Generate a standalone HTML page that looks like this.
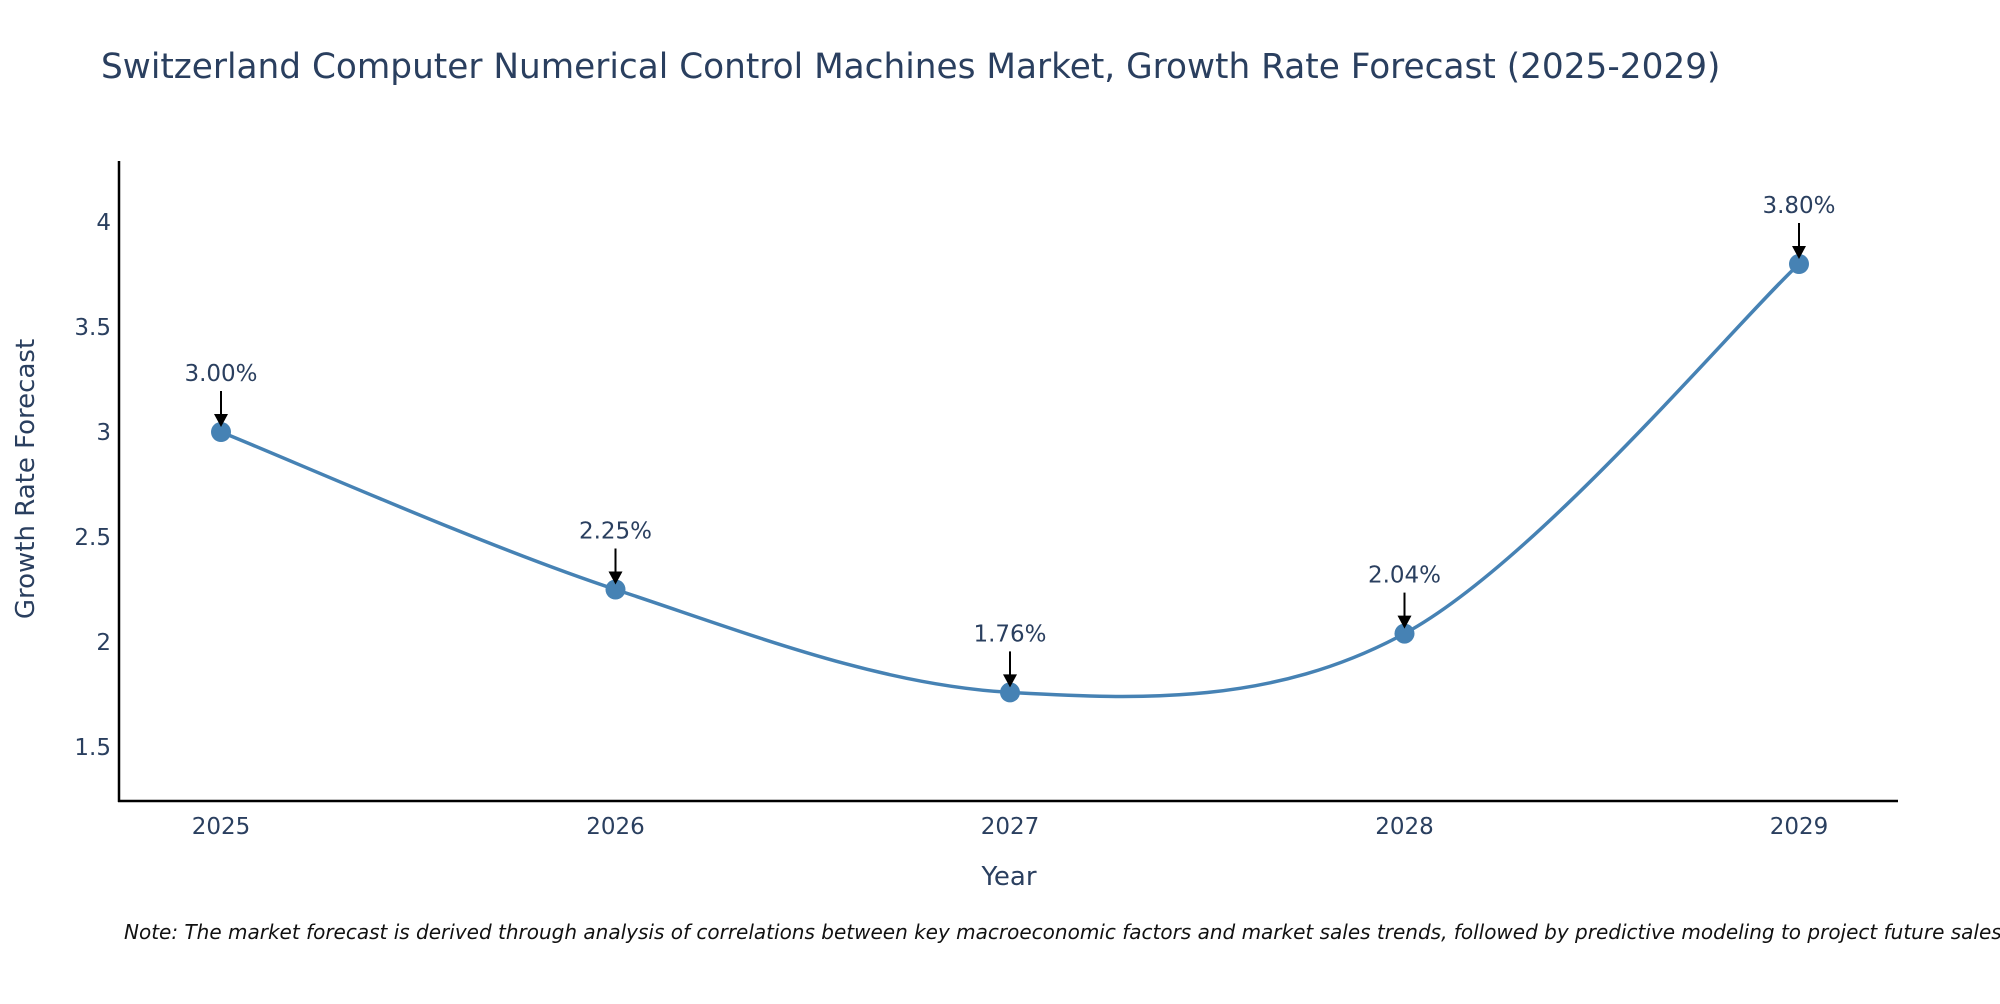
<!DOCTYPE html>
<html>
<head>
<meta charset="utf-8">
<style>
  html, body { margin: 0; padding: 0; background: #fff; }
  body { width: 2000px; height: 1000px; overflow: hidden; font-family: "DejaVu Sans", "Liberation Sans", sans-serif; }
  svg text { font-family: "DejaVu Sans", "Liberation Sans", sans-serif; fill: #2a3f5f; }
</style>
</head>
<body>
<svg id="chart" width="2000" height="1000" viewBox="0 0 2000 1000" xmlns="http://www.w3.org/2000/svg">
  <text x="101" y="78" font-size="34.3">Switzerland Computer Numerical Control Machines Market, Growth Rate Forecast (2025-2029)</text>
  <g id="yticks"></g>
  <g id="xticks"></g>
  <line x1="119" y1="161" x2="119" y2="802" stroke="#000" stroke-width="2.5"/>
  <line x1="118" y1="801" x2="1898" y2="801" stroke="#000" stroke-width="2.5"/>
  <path id="line" fill="none" stroke="#4682b4" stroke-width="3.5"/>
  <g id="points"></g>
  <g id="annots"></g>
  <text x="1009" y="885" font-size="26" text-anchor="middle">Year</text>
  <text x="0" y="0" font-size="26" text-anchor="middle" transform="translate(34,479) rotate(-90)">Growth Rate Forecast</text>
  <text x="124" y="939" font-size="20" font-style="italic" style="fill:#111">Note: The market forecast is derived through analysis of correlations between key macroeconomic factors and market sales trends, followed by predictive modeling to project future sales.</text>
</svg>
<script>
const years = [2025, 2026, 2027, 2028, 2029];
const values = [3.00, 2.25, 1.76, 2.04, 3.80];
const labels = ["3.00%", "2.25%", "1.76%", "2.04%", "3.80%"];
const yTickValues = [1.5, 2, 2.5, 3, 3.5, 4];
const yTickLabels = ["1.5", "2", "2.5", "3", "3.5", "4"];

const NS = "http://www.w3.org/2000/svg";
function xs(yr) { return 221 + (yr - 2025) * 394.5; }
function ys(v) { return 222 + (4 - v) * 210; }
function mk(tag, attrs, parent, txt) {
  const e = document.createElementNS(NS, tag);
  for (const k in attrs) e.setAttribute(k, attrs[k]);
  if (txt !== undefined) e.textContent = txt;
  parent.appendChild(e);
  return e;
}
const yt = document.getElementById('yticks');
yTickValues.forEach((v, i) => {
  const t = mk('text', {x: 111, y: ys(v) + 8, 'font-size': 23, 'text-anchor': 'end'}, yt, yTickLabels[i]);
  
  
});
const xt = document.getElementById('xticks');
years.forEach(yr => {
  const t = mk('text', {x: xs(yr), y: 834, 'font-size': 23, 'text-anchor': 'middle'}, xt, String(yr));
  
  
});
const pts = years.map((yr, i) => [xs(yr), ys(values[i])]);
let d = "M" + pts[0][0] + "," + pts[0][1];
const s = 1 / 6;
for (let i = 0; i < pts.length - 1; i++) {
  const p0 = pts[i - 1] || pts[i], p1 = pts[i], p2 = pts[i + 1], p3 = pts[i + 2] || pts[i + 1];
  const c1 = [p1[0] + (p2[0] - p0[0]) * s, p1[1] + (p2[1] - p0[1]) * s];
  const c2 = [p2[0] - (p3[0] - p1[0]) * s, p2[1] - (p3[1] - p1[1]) * s];
  d += " C" + c1 + " " + c2 + " " + p2;
}
document.getElementById('line').setAttribute('d', d);
const pg = document.getElementById('points');
const ag = document.getElementById('annots');
pts.forEach((p, i) => {
  const c = mk('circle', {cx: p[0], cy: p[1], r: 10, fill: '#4682b4'}, pg);
  
  
  const a = mk('line', {x1: p[0], y1: p[1] - 41, x2: p[0], y2: p[1] - 15, stroke: '#000', 'stroke-width': 2}, ag);
  
  
  const h = mk('polygon', {points: `${p[0]-7},${p[1]-18} ${p[0]+7},${p[1]-18} ${p[0]},${p[1]-5}`, fill: '#000'}, ag);
  
  
  const t = mk('text', {x: p[0], y: p[1] - 51, 'font-size': 23, 'text-anchor': 'middle'}, ag, labels[i]);
  
  
});
</script>
</body>
</html>
